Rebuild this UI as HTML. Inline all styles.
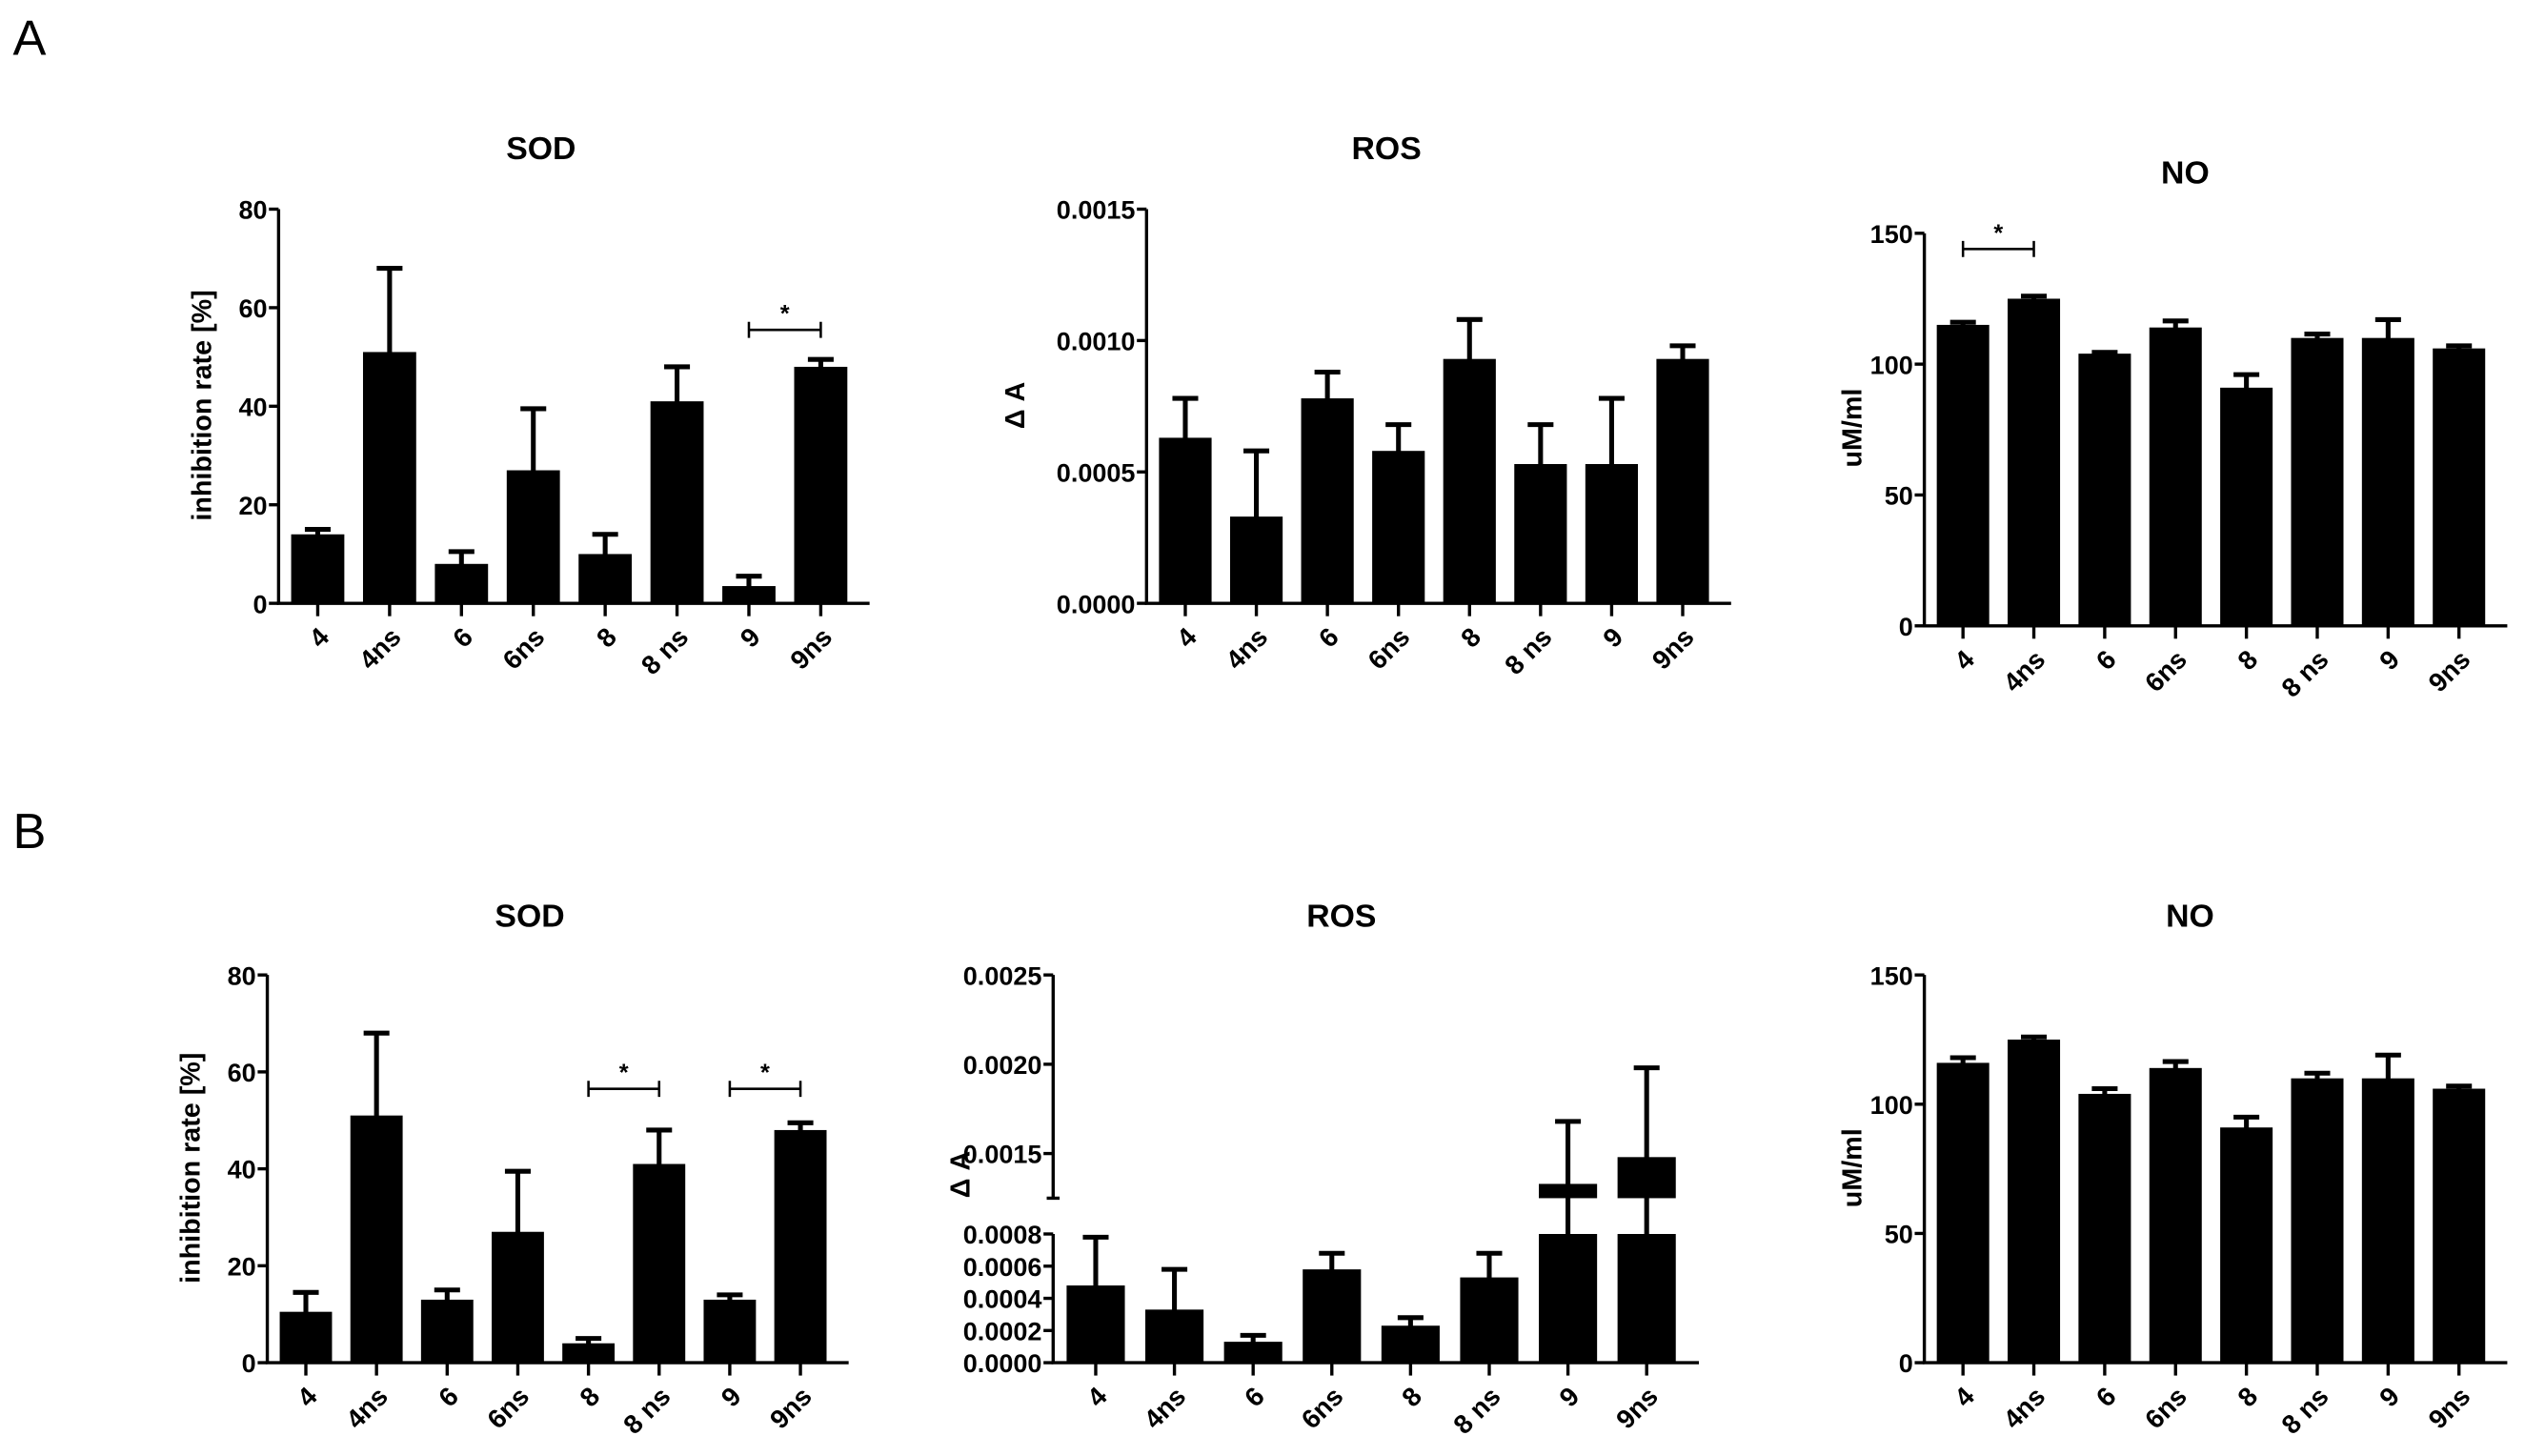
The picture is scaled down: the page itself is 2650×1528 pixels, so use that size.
<!DOCTYPE html>
<html><head><meta charset="utf-8"><style>
html,body{margin:0;padding:0;background:#fff;}
svg{display:block;font-family:"Liberation Sans",Arial,sans-serif;}
</style></head><body>
<svg id="fig" width="2650" height="1528" viewBox="0 0 1568 905" preserveAspectRatio="none" xmlns="http://www.w3.org/2000/svg">
<text x="8" y="34" font-size="31">A</text>
<text x="8" y="527" font-size="31">B</text>
</svg>
<script>
const categories = ["4","4ns","6","6ns","8","8 ns","9","9ns"];
const aSodVals = [14,51,8,27,10,41,3.5,48];
const aSodErr  = [15,68,10.5,39.5,14,48,5.5,49.5];
const aSodTicks = [0,20,40,60,80];
const aRosVals = [0.00063,0.00033,0.00078,0.00058,0.00093,0.00053,0.00053,0.00093];
const aRosErr  = [0.00078,0.00058,0.00088,0.00068,0.00108,0.00068,0.00078,0.00098];
const aRosTicks = [0,0.0005,0.0010,0.0015];
const aNoVals = [115,125,104,114,91,110,110,106];
const aNoErr  = [116,126,104.5,116.5,96,111.5,117,107];
const noTicks = [0,50,100,150];
const bSodVals = [10.5,51,13,27,4,41,13,48];
const bSodErr  = [14.5,68,15,39.5,5,48,14,49.5];
const bRosVals = [0.00048,0.00033,0.00013,0.00058,0.00023,0.00053,0.00133,0.00148];
const bRosErr  = [0.00078,0.00058,0.00017,0.00068,0.00028,0.00068,0.00168,0.00198];
const bRosLowTicks = [0,0.0002,0.0004,0.0006,0.0008];
const bRosHighTicks = [0.0015,0.0020,0.0025];
const bNoVals = [116,125,104,114,91,110,110,106];
const bNoErr  = [118,126,106,116.5,95,112,119,107];

const svg = document.getElementById('fig');
const NS = 'http://www.w3.org/2000/svg';
function mk(tag, attrs, parent){
  const e = document.createElementNS(NS, tag);
  for (const k in attrs) e.setAttribute(k, attrs[k]);
  (parent||svg).appendChild(e);
  return e;
}
function fmt(v, dec){ return v.toFixed(dec); }

function chart(o){
  const g = mk('g', {});
  
  
  const t = mk('text', {x:o.titleX, y:o.titleY, 'font-size':20, 'font-weight':'bold', 'text-anchor':'middle'}, g);
  t.textContent = o.title;
  
  
  const yl = mk('text', {x:0, y:0, 'font-size':17, 'font-weight':'bold', 'text-anchor':'middle',
    transform:`translate(${o.ylabX},${o.ylabY}) rotate(-90)`}, g);
  yl.textContent = o.ylab;
  
  
  const n = categories.length;
  const step = (o.xEnd - o.ax - 10) / n;
  const xc = i => o.ax + step*(i+0.5) + 2;
  const bw = step*0.74;
  const y = o.y;
  const ax = mk('line', {x1:o.ax, x2:o.ax, y1:o.yTopPx, y2:o.y0px, stroke:'#000', 'stroke-width':2}, g);
  
  
  const xa = mk('line', {x1:o.ax-1, x2:o.xEnd, y1:o.y0px, y2:o.y0px, stroke:'#000', 'stroke-width':2}, g);
  
  
  o.ticks.forEach(v=>{
    const yy = y(v);
    mk('line', {x1:o.ax-6, x2:o.ax, y1:yy, y2:yy, stroke:'#000', 'stroke-width':2}, g);
    const tl = mk('text', {x:o.ax-7, y:yy+6, 'font-size':16, 'font-weight':'bold', 'text-anchor':'end'}, g);
    tl.textContent = fmt(v, o.dec);
    
    
  });
  if (o.extra) o.extra(g, xc, bw);
  categories.forEach((c,i)=>{
    const cx = xc(i);
    const v = o.vals[i], e = o.errs[i];
    const ye = y(e);
    mk('line', {x1:cx, x2:cx, y1:ye, y2:o.y0px, stroke:'#000', 'stroke-width':3}, g);
    mk('line', {x1:cx-8, x2:cx+8, y1:ye, y2:ye, stroke:'#000', 'stroke-width':3}, g);
    if (o.drawBar) { o.drawBar(g, cx, bw, v); }
    else {
      const b = mk('rect', {x:cx-bw/2, y:y(v), width:bw, height:o.y0px-y(v), fill:'#000'}, g);
      
      
    }
    mk('line', {x1:cx, x2:cx, y1:o.y0px, y2:o.y0px+8, stroke:'#000', 'stroke-width':2}, g);
    const tl = mk('text', {x:0, y:0, 'font-size':16.5, 'font-weight':'bold', 'text-anchor':'end',
      transform:`translate(${cx+8},${o.y0px+22}) rotate(-45)`}, g);
    tl.textContent = c;
    
    
  });
  (o.brackets||[]).forEach(br=>{
    const x1 = xc(br[0]), x2 = xc(br[1]), yy = y(br[2]);
    const bg = mk('g', {}, g);
    
    
    mk('line', {x1:x1, x2:x2, y1:yy, y2:yy, stroke:'#000', 'stroke-width':1.5}, bg);
    mk('line', {x1:x1, x2:x1, y1:yy-5, y2:yy+5, stroke:'#000', 'stroke-width':1.5}, bg);
    mk('line', {x1:x2, x2:x2, y1:yy-5, y2:yy+5, stroke:'#000', 'stroke-width':1.5}, bg);
    const s = mk('text', {x:(x1+x2)/2, y:yy-5, 'font-size':15, 'font-weight':'bold', 'text-anchor':'middle'}, bg);
    s.textContent = '*';
  });
}
function lin(d0,d1,p0,p1){ return v => p0 + (v-d0)/(d1-d0)*(p1-p0); }

chart({name:'a-sod-chart', title:'SOD', titleX:336, titleY:99, ylab:'inhibition rate [%]', ylabX:131, ylabY:252,
  ax:173, xEnd:540, y0px:375, yTopPx:130, y:lin(0,80,375,130), ticks:aSodTicks, dec:0,
  vals:aSodVals, errs:aSodErr, brackets:[[6,7,55.5]]});
chart({name:'a-ros-chart', title:'ROS', titleX:861, titleY:99, ylab:'\u0394 A', ylabX:636, ylabY:252,
  ax:712, xEnd:1075, y0px:375, yTopPx:130, y:lin(0,0.0015,375,130), ticks:aRosTicks, dec:4,
  vals:aRosVals, errs:aRosErr});
chart({name:'a-no-chart', title:'NO', titleX:1357, titleY:114, ylab:'uM/ml', ylabX:1156, ylabY:266,
  ax:1195, xEnd:1557, y0px:389, yTopPx:145, y:lin(0,150,389,145), ticks:noTicks, dec:0,
  vals:aNoVals, errs:aNoErr, brackets:[[0,1,144]]});
chart({name:'b-sod-chart', title:'SOD', titleX:329, titleY:576, ylab:'inhibition rate [%]', ylabX:124, ylabY:726,
  ax:166, xEnd:527, y0px:847, yTopPx:606, y:lin(0,80,847,606), ticks:aSodTicks, dec:0,
  vals:bSodVals, errs:bSodErr, brackets:[[4,5,56.5],[6,7,56.5]]});
chart({name:'b-no-chart', title:'NO', titleX:1360, titleY:576, ylab:'uM/ml', ylabX:1156, ylabY:726,
  ax:1195, xEnd:1557, y0px:847, yTopPx:606, y:lin(0,150,847,606), ticks:noTicks, dec:0,
  vals:bNoVals, errs:bNoErr});

const breakLow = 0.0008, breakHigh = 0.00125;
const yLow = lin(0, 0.0008, 847, 767);
const yHigh = lin(0.0015, 0.0025, 717, 606);
const yB = v => v <= breakLow ? yLow(v) : (v >= breakHigh ? yHigh(v) : yHigh(breakHigh));
chart({name:'b-ros-chart', title:'ROS', titleX:833, titleY:576, ylab:'\u0394 A', ylabX:602, ylabY:730,
  ax:654, xEnd:1055, y0px:847, yTopPx:767, y:yB, ticks:bRosLowTicks.concat(bRosHighTicks), dec:4,
  vals:bRosVals, errs:bRosErr,
  extra:(g)=>{
    const yb = yHigh(breakHigh);
    mk('line', {x1:654, x2:654, y1:606, y2:yb, stroke:'#000', 'stroke-width':2}, g);
    mk('line', {x1:650, x2:658, y1:yb, y2:yb, stroke:'#000', 'stroke-width':2}, g);
  },
  drawBar:(g,cx,bw,v)=>{
    const top = Math.min(v, breakLow);
    const b = mk('rect', {x:cx-bw/2, y:yLow(top), width:bw, height:847-yLow(top), fill:'#000'}, g);
    
    
    if (v > breakHigh) {
      const u = mk('rect', {x:cx-bw/2, y:yHigh(v), width:bw, height:yHigh(breakHigh)-yHigh(v), fill:'#000'}, g);
      
      
    }
  }});
</script>
</body></html>
